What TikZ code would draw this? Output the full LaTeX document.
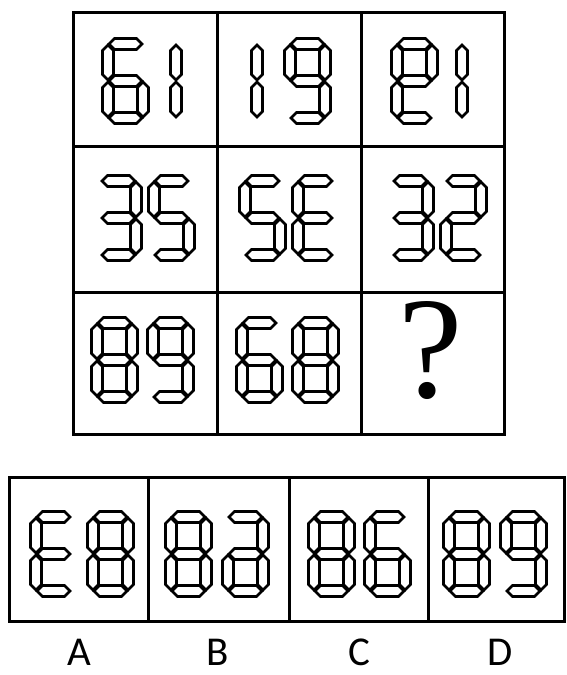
\documentclass[tikz,border=0pt]{standalone}
\usepackage{fontspec}
\newfontfamily\labelfont{Carlito}
\newfontfamily\markfont{Liberation Serif}
\usetikzlibrary{positioning}

% segment geometry: thickness and end gap
\def\sth{11}
\def\sgap{1}
% horizontal segment: x1, x2, y
\newcommand{\segH}[3]{\draw[seg] (#1+\sgap,#3) -- (#1+\sgap+\sth/2,#3-\sth/2) -- (#2-\sgap-\sth/2,#3-\sth/2) -- (#2-\sgap,#3) -- (#2-\sgap-\sth/2,#3+\sth/2) -- (#1+\sgap+\sth/2,#3+\sth/2) -- cycle;}
% vertical segment: x, y1, y2
\newcommand{\segV}[3]{\draw[seg] (#1,#2+\sgap) -- (#1+\sth/2,#2+\sgap+\sth/2) -- (#1+\sth/2,#3-\sgap-\sth/2) -- (#1,#3-\sgap) -- (#1-\sth/2,#3-\sgap-\sth/2) -- (#1-\sth/2,#2+\sgap+\sth/2) -- cycle;}
\newcommand{\sevsega}{\segH{5}{40}{5}}
\newcommand{\sevsegb}{\segV{40}{5}{42}}
\newcommand{\sevsegc}{\segV{40}{42}{79}}
\newcommand{\sevsegd}{\segH{5}{40}{79}}
\newcommand{\sevsege}{\segV{5}{42}{79}}
\newcommand{\sevsegf}{\segV{5}{5}{42}}
\newcommand{\sevsegg}{\segH{5}{40}{42}}
% digit at top left corner (x,y) with a list of segments
\newcommand{\segdigit}[3]{\begin{scope}[shift={(#1,#2)}]\foreach \sg in {#3}{\csname sevseg\sg\endcsname}\end{scope}}

\begin{document}
\begin{tikzpicture}[x=1pt,y=-1pt]

\tikzset{cell/.style = {draw,line width=3pt}}
\tikzset{seg/.style = {draw,line width=2.6pt,fill=white}}
\tikzset{optlabel/.style = {inner sep=0pt,font=\labelfont\fontsize{41}{41}\selectfont}}
\tikzset{qmark/.style = {inner sep=0pt,font=\markfont\fontsize{145}{145}\selectfont}}

\useasboundingbox (0,0) rectangle (566,675);

% grid
\draw[cell] (73,12) rectangle (504,434);
\draw[cell] (217,12) -- (217,434);
\draw[cell] (361,12) -- (361,434);
\draw[cell] (73,146) -- (504,146);
\draw[cell] (73,292) -- (504,292);

% row 1
\segdigit{103}{39}{a,c,d,e,f,g}
\segdigit{136}{39}{b,c}
\segdigit{217}{39}{b,c}
\segdigit{285}{39}{a,b,c,d,f,g}
\segdigit{392}{39}{a,b,d,e,f,g}
\segdigit{422}{39}{b,c}

% row 2
\segdigit{96}{176}{a,b,c,d,g}
\segdigit{149}{176}{a,c,d,f,g}
\segdigit{240}{176}{a,c,d,f,g}
\segdigit{293}{176}{a,d,e,f,g}
\segdigit{388}{176}{a,b,c,d,g}
\segdigit{441}{176}{a,b,d,e,g}

% row 3
\segdigit{92}{318}{a,b,c,d,e,f,g}
\segdigit{148}{318}{a,b,c,d,f,g}
\segdigit{237}{318}{a,c,d,e,f,g}
\segdigit{293}{318}{a,b,c,d,e,f,g}
\node[qmark] (qm) at (431,351) {?};

% options
\draw[cell] (9,477) rectangle (564,621);
\draw[cell] (148,477) -- (148,621);
\draw[cell] (289,477) -- (289,621);
\draw[cell] (428,477) -- (428,621);

\segdigit{31}{512}{a,d,e,f,g}
\segdigit{88}{512}{a,b,c,d,e,f,g}
\segdigit{166}{512}{a,b,c,d,e,f,g}
\segdigit{223}{512}{a,b,c,d,e,g}
\segdigit{309}{512}{a,b,c,d,e,f,g}
\segdigit{365}{512}{a,c,d,e,f,g}
\segdigit{444}{512}{a,b,c,d,e,f,g}
\segdigit{501}{512}{a,b,c,d,f,g}

% labels
\node[optlabel] (labA) at (79,652) {A};
\node[optlabel] (labB) at (218,652) {B};
\node[optlabel] (labC) at (359,652) {C};
\node[optlabel] (labD) at (500,652) {D};

\end{tikzpicture}
\end{document}
